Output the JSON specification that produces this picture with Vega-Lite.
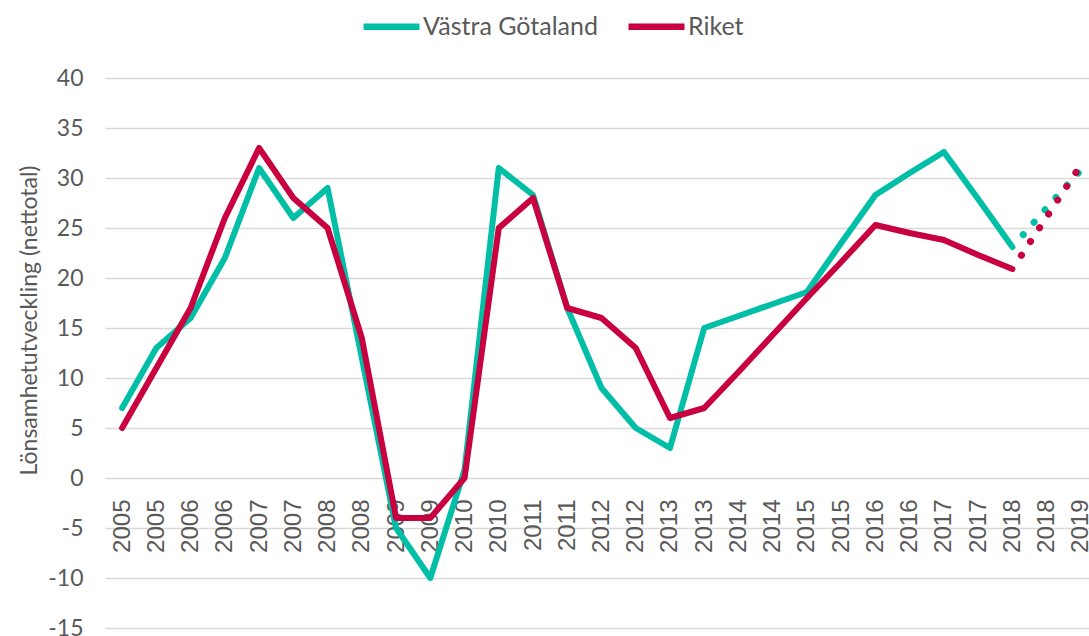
{
  "$schema": "https://vega.github.io/schema/vega-lite/v6.json",
  "width": 993,
  "height": 550,
  "autosize": {"type": "none"},
  "padding": {"left": 105, "top": 78, "right": -9, "bottom": 8},
  "background": "white",
  "config": {
    "view": {"stroke": null},
    "font": "Lato"
  },
  "data": {
    "values": [
      {"p": "2005 a", "s": "Västra Götaland", "v": 7, "typ": "faktisk"},
      {"p": "2005 b", "s": "Västra Götaland", "v": 13, "typ": "faktisk"},
      {"p": "2006 a", "s": "Västra Götaland", "v": 16, "typ": "faktisk"},
      {"p": "2006 b", "s": "Västra Götaland", "v": 22, "typ": "faktisk"},
      {"p": "2007 a", "s": "Västra Götaland", "v": 31, "typ": "faktisk"},
      {"p": "2007 b", "s": "Västra Götaland", "v": 26, "typ": "faktisk"},
      {"p": "2008 a", "s": "Västra Götaland", "v": 29, "typ": "faktisk"},
      {"p": "2008 b", "s": "Västra Götaland", "v": 12, "typ": "faktisk"},
      {"p": "2009 a", "s": "Västra Götaland", "v": -5, "typ": "faktisk"},
      {"p": "2009 b", "s": "Västra Götaland", "v": -10, "typ": "faktisk"},
      {"p": "2010 a", "s": "Västra Götaland", "v": 0.8, "typ": "faktisk"},
      {"p": "2010 b", "s": "Västra Götaland", "v": 31, "typ": "faktisk"},
      {"p": "2011 a", "s": "Västra Götaland", "v": 28.3, "typ": "faktisk"},
      {"p": "2011 b", "s": "Västra Götaland", "v": 17, "typ": "faktisk"},
      {"p": "2012 a", "s": "Västra Götaland", "v": 9, "typ": "faktisk"},
      {"p": "2012 b", "s": "Västra Götaland", "v": 5, "typ": "faktisk"},
      {"p": "2013 a", "s": "Västra Götaland", "v": 3, "typ": "faktisk"},
      {"p": "2013 b", "s": "Västra Götaland", "v": 15, "typ": "faktisk"},
      {"p": "2014 a", "s": "Västra Götaland", "v": 16.2, "typ": "faktisk"},
      {"p": "2014 b", "s": "Västra Götaland", "v": 17.4, "typ": "faktisk"},
      {"p": "2015 a", "s": "Västra Götaland", "v": 18.6, "typ": "faktisk"},
      {"p": "2015 b", "s": "Västra Götaland", "v": 23.5, "typ": "faktisk"},
      {"p": "2016 a", "s": "Västra Götaland", "v": 28.3, "typ": "faktisk"},
      {"p": "2016 b", "s": "Västra Götaland", "v": 30.5, "typ": "faktisk"},
      {"p": "2017 a", "s": "Västra Götaland", "v": 32.6, "typ": "faktisk"},
      {"p": "2017 b", "s": "Västra Götaland", "v": 27.9, "typ": "faktisk"},
      {"p": "2018 a", "s": "Västra Götaland", "v": 23.1, "typ": "faktisk"},
      {"p": "2018 a", "s": "Västra Götaland", "v": 23.1, "typ": "prognos"},
      {"p": "2018 b", "s": "Västra Götaland", "v": 27.0, "typ": "prognos"},
      {"p": "2019 a", "s": "Västra Götaland", "v": 30.8, "typ": "prognos"},
      {"p": "2005 a", "s": "Riket", "v": 5, "typ": "faktisk"},
      {"p": "2005 b", "s": "Riket", "v": 11, "typ": "faktisk"},
      {"p": "2006 a", "s": "Riket", "v": 17, "typ": "faktisk"},
      {"p": "2006 b", "s": "Riket", "v": 26, "typ": "faktisk"},
      {"p": "2007 a", "s": "Riket", "v": 33, "typ": "faktisk"},
      {"p": "2007 b", "s": "Riket", "v": 28, "typ": "faktisk"},
      {"p": "2008 a", "s": "Riket", "v": 25, "typ": "faktisk"},
      {"p": "2008 b", "s": "Riket", "v": 14, "typ": "faktisk"},
      {"p": "2009 a", "s": "Riket", "v": -4, "typ": "faktisk"},
      {"p": "2009 b", "s": "Riket", "v": -4, "typ": "faktisk"},
      {"p": "2010 a", "s": "Riket", "v": 0, "typ": "faktisk"},
      {"p": "2010 b", "s": "Riket", "v": 25, "typ": "faktisk"},
      {"p": "2011 a", "s": "Riket", "v": 28, "typ": "faktisk"},
      {"p": "2011 b", "s": "Riket", "v": 17, "typ": "faktisk"},
      {"p": "2012 a", "s": "Riket", "v": 16, "typ": "faktisk"},
      {"p": "2012 b", "s": "Riket", "v": 13, "typ": "faktisk"},
      {"p": "2013 a", "s": "Riket", "v": 6, "typ": "faktisk"},
      {"p": "2013 b", "s": "Riket", "v": 7, "typ": "faktisk"},
      {"p": "2014 a", "s": "Riket", "v": 10.6, "typ": "faktisk"},
      {"p": "2014 b", "s": "Riket", "v": 14.3, "typ": "faktisk"},
      {"p": "2015 a", "s": "Riket", "v": 18.0, "typ": "faktisk"},
      {"p": "2015 b", "s": "Riket", "v": 21.6, "typ": "faktisk"},
      {"p": "2016 a", "s": "Riket", "v": 25.3, "typ": "faktisk"},
      {"p": "2016 b", "s": "Riket", "v": 24.5, "typ": "faktisk"},
      {"p": "2017 a", "s": "Riket", "v": 23.8, "typ": "faktisk"},
      {"p": "2017 b", "s": "Riket", "v": 22.3, "typ": "faktisk"},
      {"p": "2018 a", "s": "Riket", "v": 20.9, "typ": "faktisk"},
      {"p": "2018 a", "s": "Riket", "v": 20.9, "typ": "prognos"},
      {"p": "2018 b", "s": "Riket", "v": 26.1, "typ": "prognos"},
      {"p": "2019 a", "s": "Riket", "v": 31.3, "typ": "prognos"}
    ]
  },
  "encoding": {
    "x": {
      "field": "p",
      "type": "ordinal",
      "sort": "ascending",
      "scale": {"type": "point", "padding": 0.5},
      "axis": {
        "title": null,
        "labelExpr": "slice(datum.label, 0, 4)",
        "labelAngle": -90,
        "labelAlign": "right",
        "labelBaseline": "middle",
        "labelFont": "Liberation Sans",
        "labelFontSize": 24,
        "labelColor": "#595959",
        "labelPadding": 21,
        "labelOverlap": false,
        "labelBound": false,
        "domain": false,
        "ticks": false,
        "grid": false,
        "offset": -150
      }
    },
    "y": {
      "field": "v",
      "type": "quantitative",
      "scale": {"domain": [-15, 40], "nice": false, "zero": false},
      "axis": {
        "values": [-15, -10, -5, 0, 5, 10, 15, 20, 25, 30, 35, 40],
        "labelExpr": "'' + datum.value",
        "title": "Lönsamhetutveckling (nettotal)",
        "titleFont": "Lato",
        "titleFontSize": 23,
        "titleFontWeight": "normal",
        "titleColor": "#595959",
        "titleAngle": -90,
        "titleAlign": "center",
        "titleBaseline": "middle",
        "titleX": -76,
        "titleY": 242,
        "labelFont": "Lato",
        "labelFontSize": 23,
        "labelColor": "#595959",
        "labelPadding": 22,
        "domain": false,
        "ticks": false,
        "gridColor": "#D9D9D9",
        "gridWidth": 1.5
      }
    },
    "color": {
      "field": "s",
      "type": "nominal",
      "scale": {"domain": ["Västra Götaland", "Riket"], "range": ["#00BFA6", "#C9003F"]},
      "legend": {
        "title": null,
        "orient": "none",
        "direction": "horizontal",
        "legendX": 255,
        "legendY": -83,
        "padding": 0,
        "symbolType": "stroke",
        "symbolSize": 3136,
        "symbolStrokeWidth": 6.5,
        "labelFont": "Lato",
        "labelFontSize": 25,
        "labelLimit": 400,
        "labelColor": "#595959",
        "labelOffset": 0,
        "columnPadding": 17
      }
    }
  },
  "layer": [
    {
      "transform": [{"filter": "datum.typ == 'faktisk'"}],
      "mark": {"type": "line", "strokeWidth": 6, "strokeCap": "round", "strokeJoin": "round"}
    },
    {
      "transform": [{"filter": "datum.typ == 'prognos'"}],
      "mark": {"type": "line", "strokeWidth": 7, "strokeCap": "round", "strokeDash": [0.1, 16.4], "strokeDashOffset": 0.1}
    }
  ]
}
